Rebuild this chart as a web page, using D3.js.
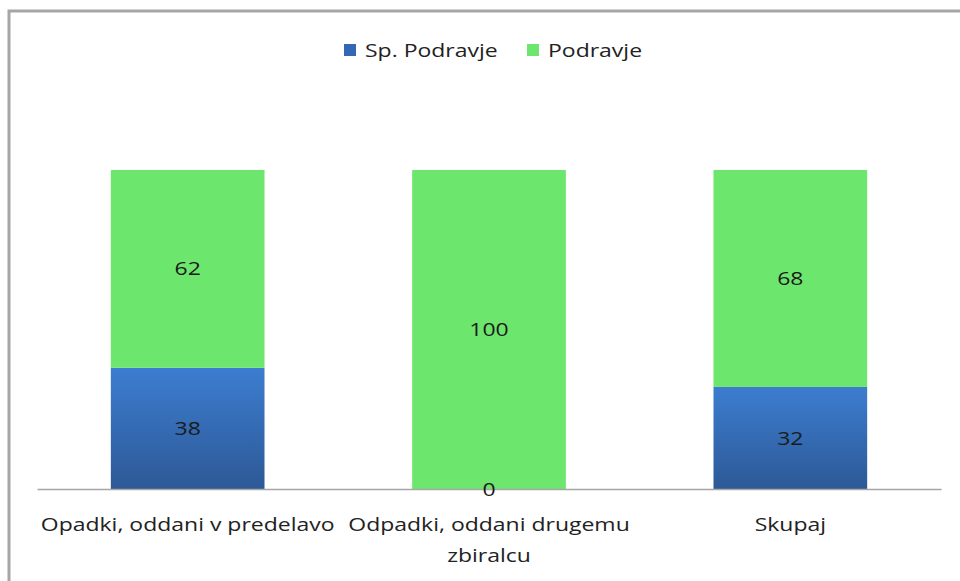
<!DOCTYPE html>
<html>
<head>
<meta charset="utf-8">
<script src="https://cdn.jsdelivr.net/npm/d3@7"></script>
<style>
  body { margin: 0; background: #fff; }
  svg { display: block; font-family: "Open Sans", sans-serif; }
</style>
</head>
<body>
<svg id="chart" width="960" height="581"></svg>
<script>
var categories = ["Opadki, oddani v predelavo", "Odpadki, oddani drugemu zbiralcu", "Skupaj"];
var catLines = [["Opadki, oddani v predelavo"], ["Odpadki, oddani drugemu", "zbiralcu"], ["Skupaj"]];
var spPodravje = [38, 0, 32];
var podravje = [62, 100, 68];
var seriesNames = ["Sp. Podravje", "Podravje"];

const svg = d3.select('#chart');
const plotLeft = 37, plotRight = 941, plotTop = 170, base = 489;
const stretch = 1.21; // the source text is a little wider than it is tall

// frame (only left and top edges show in the crop)
svg.append('path')
    .attr('d', 'M9,581 V11 H960')
    .attr('fill', 'none')
    .attr('stroke', '#a6a6a6')
    .attr('stroke-width', 3);

var defs = svg.append('defs');
var grad = defs.append('linearGradient').attr('id', 'blueGrad')
    .attr('x1', 0).attr('y1', 0).attr('x2', 0).attr('y2', 1);
grad.append('stop').attr('offset', '0%').attr('stop-color', '#3c7dd0');
grad.append('stop').attr('offset', '100%').attr('stop-color', '#2d5996');

var x = d3.scaleBand()
    .domain(categories)
    .range([plotLeft, plotRight])
    .paddingInner(0.49)
    .paddingOuter(0.245);
var y = d3.scaleLinear()
    .domain([0, 100])
    .range([base, plotTop]);

var rows = categories.map((c, i) => ({ cat: c, a: spPodravje[i], b: podravje[i] }));

// blue segment
svg.selectAll('rect.sp')
    .data(rows)
    .enter()
    .append('rect')
    .attr('class', 'sp')
    .attr('x', d => x(d.cat))
    .attr('width', x.bandwidth())
    .attr('y', d => y(d.a))
    .attr('height', d => base - y(d.a))
    .style('fill', 'url(#blueGrad)');

// green segment
svg.selectAll('rect.pd')
    .data(rows)
    .enter()
    .append('rect')
    .attr('class', 'pd')
    .attr('x', d => x(d.cat))
    .attr('width', x.bandwidth())
    .attr('y', d => y(d.a + d.b))
    .attr('height', d => y(d.a) - y(d.a + d.b))
    .style('fill', '#6de66d');

// axis line
svg.append('g')
    .attr('transform', `translate(0,${base})`)
    .call(d3.axisBottom(x).tickSize(0).tickFormat(''))
    .call(g => g.select('.domain').attr('stroke', '#a6a6a6').attr('stroke-width', 1.5));

function stretched(sel, fx, fy) {
    return sel.attr('transform', (d, i) => `translate(${fx(d, i)},${fy(d, i)}) scale(${stretch},1)`);
}

// value labels
stretched(svg.selectAll('text.lblA')
    .data(rows)
    .enter()
    .append('text'),
    d => x(d.cat) + x.bandwidth() / 2,
    d => (y(0) + y(d.a)) / 2 + 2)
    .attr('text-anchor', 'middle')
    .attr('dominant-baseline', 'middle')
    .attr('font-size', 19)
    .attr('fill', '#1a1a1a')
    .text(d => d.a);

stretched(svg.selectAll('text.lblB')
    .data(rows)
    .enter()
    .append('text'),
    d => x(d.cat) + x.bandwidth() / 2,
    d => (y(d.a) + y(d.a + d.b)) / 2 + 1)
    .attr('text-anchor', 'middle')
    .attr('dominant-baseline', 'middle')
    .attr('font-size', 19)
    .attr('fill', '#1a1a1a')
    .text(d => d.b);

// category labels
catLines.forEach((lines, i) => {
    stretched(svg.selectAll(null)
        .data(lines)
        .enter()
        .append('text'),
        d => x(categories[i]) + x.bandwidth() / 2,
        (d, j) => 531 + j * 31)
        .attr('text-anchor', 'middle')
        .attr('font-size', 19)
        .attr('fill', '#222')
        .text(d => d);
});

// legend
var legend = [
    { name: seriesNames[0], color: '#3468b4', x: 344 },
    { name: seriesNames[1], color: '#6de66d', x: 527 }
];
var lg = svg.selectAll('g.leg')
    .data(legend)
    .enter()
    .append('g')
    .attr('transform', d => `translate(${d.x},0)`);
lg.append('rect')
    .attr('y', 44)
    .attr('width', 12)
    .attr('height', 12)
    .style('fill', d => d.color);
lg.append('text')
    .attr('transform', `translate(21,57) scale(${stretch},1)`)
    .attr('font-size', 19)
    .attr('fill', '#222')
    .text(d => d.name);
</script>
</body>
</html>
